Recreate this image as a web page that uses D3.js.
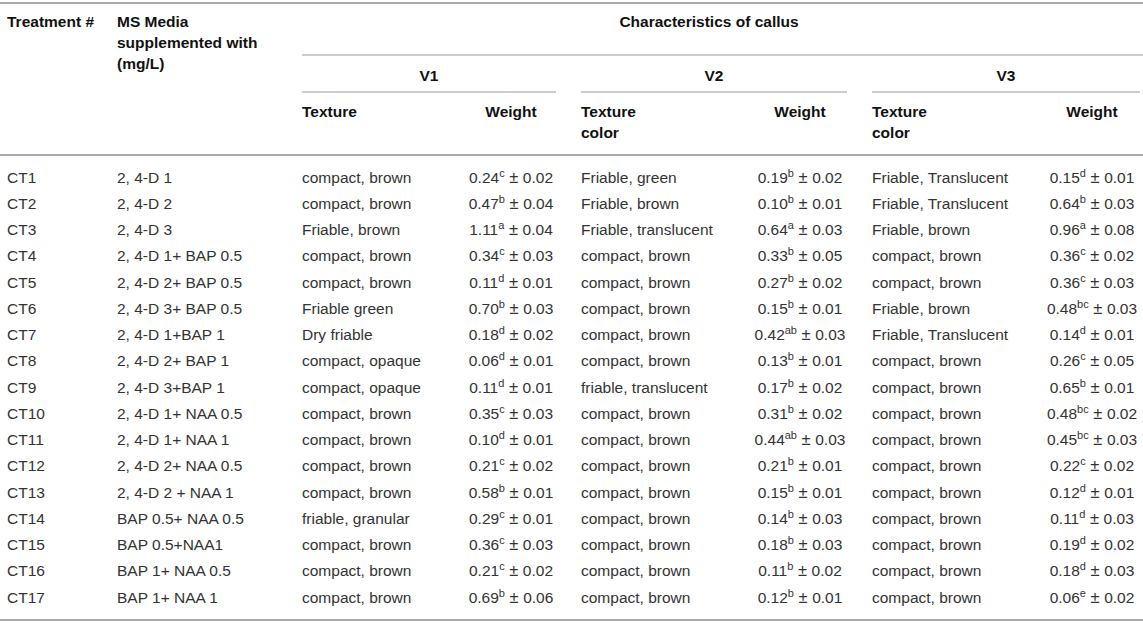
<!DOCTYPE html>
<html lang="en">
<head>
<meta charset="UTF-8">
<title>Characteristics of callus</title>
<script src="https://d3js.org/d3.v7.min.js"></script>
<style>
  body { margin: 0; background: #fff; }
  svg { display: block; font-family: "Liberation Sans", Arial, Helvetica, sans-serif; }
  .head { font-weight: bold; fill: #111; font-size: 15.5px; }
  .cell { fill: #333; font-size: 15.5px; }
  .sup { font-size: 11px; }
  .pm { font-size: 16.5px; }
</style>
</head>
<body>
<div id="table"></div>
<script>
// Table contents
const treatments = ["CT1","CT2","CT3","CT4","CT5","CT6","CT7","CT8","CT9","CT10","CT11","CT12","CT13","CT14","CT15","CT16","CT17"];
const media = ["2, 4-D 1","2, 4-D 2","2, 4-D 3","2, 4-D 1+ BAP 0.5","2, 4-D 2+ BAP 0.5","2, 4-D 3+ BAP 0.5","2, 4-D 1+BAP 1","2, 4-D 2+ BAP 1","2, 4-D 3+BAP 1","2, 4-D 1+ NAA 0.5","2, 4-D 1+ NAA 1","2, 4-D 2+ NAA 0.5","2, 4-D 2 + NAA 1","BAP 0.5+ NAA 0.5","BAP 0.5+NAA1","BAP 1+ NAA 0.5","BAP 1+ NAA 1"];

const v1Texture = ["compact, brown","compact, brown","Friable, brown","compact, brown","compact, brown","Friable green","Dry friable","compact, opaque","compact, opaque","compact, brown","compact, brown","compact, brown","compact, brown","friable, granular","compact, brown","compact, brown","compact, brown"];
const v1Mean = [0.24,0.47,1.11,0.34,0.11,0.70,0.18,0.06,0.11,0.35,0.10,0.21,0.58,0.29,0.36,0.21,0.69];
const v1Letter = ["c","b","a","c","d","b","d","d","d","c","d","c","b","c","c","c","b"];
const v1Sd = [0.02,0.04,0.04,0.03,0.01,0.03,0.02,0.01,0.01,0.03,0.01,0.02,0.01,0.01,0.03,0.02,0.06];

const v2Texture = ["Friable, green","Friable, brown","Friable, translucent","compact, brown","compact, brown","compact, brown","compact, brown","compact, brown","friable, translucent","compact, brown","compact, brown","compact, brown","compact, brown","compact, brown","compact, brown","compact, brown","compact, brown"];
const v2Mean = [0.19,0.10,0.64,0.33,0.27,0.15,0.42,0.13,0.17,0.31,0.44,0.21,0.15,0.14,0.18,0.11,0.12];
const v2Letter = ["b","b","a","b","b","b","ab","b","b","b","ab","b","b","b","b","b","b"];
const v2Sd = [0.02,0.01,0.03,0.05,0.02,0.01,0.03,0.01,0.02,0.02,0.03,0.01,0.01,0.03,0.03,0.02,0.01];

const v3Texture = ["Friable, Translucent","Friable, Translucent","Friable, brown","compact, brown","compact, brown","Friable, brown","Friable, Translucent","compact, brown","compact, brown","compact, brown","compact, brown","compact, brown","compact, brown","compact, brown","compact, brown","compact, brown","compact, brown"];
const v3Mean = [0.15,0.64,0.96,0.36,0.36,0.48,0.14,0.26,0.65,0.48,0.45,0.22,0.12,0.11,0.19,0.18,0.06];
const v3Letter = ["d","b","a","c","c","bc","d","c","b","bc","bc","c","d","d","d","d","e"];
const v3Sd = [0.01,0.03,0.08,0.02,0.03,0.03,0.01,0.05,0.01,0.02,0.03,0.02,0.01,0.03,0.02,0.03,0.02];

const varieties = ["V1","V2","V3"];

const W = 1143, H = 624;
const svg = d3.select("#table").append("svg")
  .attr("width", W).attr("height", H);

const fmt = d3.format(".2f");

// column layout: texture left edge, weight centre, span of the variety rule
const groups = [
  { name: varieties[0], tex: v1Texture, mean: v1Mean, letter: v1Letter, sd: v1Sd, x0: 302, x1: 556, wx: 511, texHead: ["Texture"] },
  { name: varieties[1], tex: v2Texture, mean: v2Mean, letter: v2Letter, sd: v2Sd, x0: 581, x1: 847, wx: 800, texHead: ["Texture", "color"] },
  { name: varieties[2], tex: v3Texture, mean: v3Mean, letter: v3Letter, sd: v3Sd, x0: 872, x1: 1140, wx: 1092, texHead: ["Texture", "color"] }
];

// rows
const y = d3.scalePoint().domain(treatments).range([177, 597]);

// rules
function rule(x0, x1, yy, w, c) {
  svg.append("line").attr("x1", x0).attr("x2", x1).attr("y1", yy).attr("y2", yy)
    .attr("stroke", c).attr("stroke-width", w);
}
rule(0, W, 3, 2, "#aaa");
rule(302, W, 55, 1.3, "#bbb");
groups.forEach(g => rule(g.x0, g.x1, 92, 1.3, "#bbb"));
rule(0, W, 155, 2, "#aaa");
rule(0, W, 620, 2, "#aaa");

// header
const head = svg.append("g").attr("class", "head");
head.append("text").attr("x", 7).attr("y", 27).text("Treatment #");
["MS Media", "supplemented with", "(mg/L)"].forEach((t, i) =>
  head.append("text").attr("x", 117).attr("y", 27 + i * 21).text(t));
head.append("text").attr("x", 709).attr("y", 27).attr("text-anchor", "middle").text("Characteristics of callus");

groups.forEach(g => {
  head.append("text").attr("x", (g.x0 + g.x1) / 2).attr("y", 81).attr("text-anchor", "middle").text(g.name);
  g.texHead.forEach((t, i) =>
    head.append("text").attr("x", g.x0).attr("y", 117 + i * 21).text(t));
  head.append("text").attr("x", g.wx).attr("y", 117).attr("text-anchor", "middle").text("Weight");
});

// body
const body = svg.append("g").attr("class", "cell");
const rows = body.selectAll("g.row").data(treatments).join("g")
  .attr("class", "row")
  .attr("transform", d => `translate(0,${y(d) + 5.5})`);

rows.append("text").attr("x", 7).text(d => d);
rows.append("text").attr("x", 117).text((d, i) => media[i]);

groups.forEach(g => {
  rows.append("text").attr("x", g.x0).text((d, i) => g.tex[i]);
  const wt = rows.append("text").attr("x", g.wx).attr("text-anchor", "middle");
  wt.append("tspan").text((d, i) => fmt(g.mean[i]));
  wt.append("tspan").attr("class", "sup").attr("dy", -6).text((d, i) => g.letter[i]);
  wt.append("tspan").attr("class", "pm").attr("dy", 6).text(" \u00b1 ");
  wt.append("tspan").text((d, i) => fmt(g.sd[i]));
});
</script>
</body>
</html>
